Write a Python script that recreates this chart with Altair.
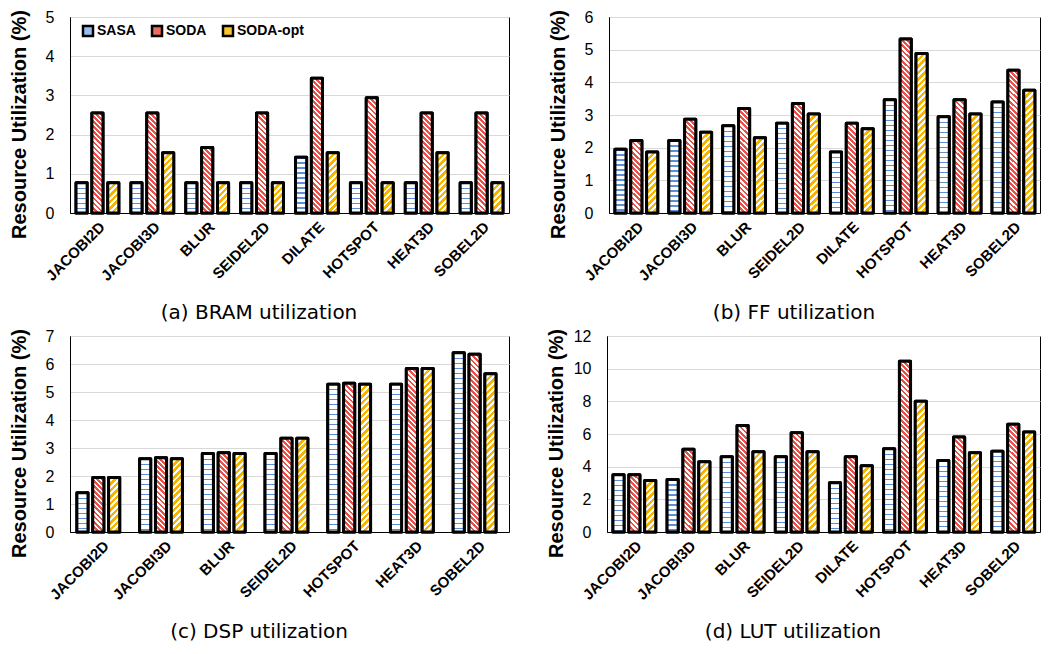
import math
import altair as alt

# ---------------- data ----------------
categories = ["JACOBI2D", "JACOBI3D", "BLUR", "SEIDEL2D", "DILATE", "HOTSPOT", "HEAT3D", "SOBEL2D"]
series = ["SASA", "SODA", "SODA-opt"]

bram_sasa = [0.77, 0.77, 0.77, 0.77, 1.42, 0.77, 0.77, 0.77]
bram_soda = [2.55, 2.55, 1.67, 2.55, 3.44, 2.94, 2.55, 2.55]
bram_opt = [0.77, 1.54, 0.77, 0.77, 1.54, 0.77, 1.54, 0.77]

ff_sasa = [1.95, 2.22, 2.67, 2.75, 1.87, 3.47, 2.95, 3.40]
ff_soda = [2.22, 2.87, 3.20, 3.35, 2.75, 5.33, 3.47, 4.37]
ff_opt = [1.87, 2.47, 2.30, 3.03, 2.58, 4.88, 3.03, 3.76]

dsp_sasa = [1.40, 2.62, 2.80, 2.80, 0.0, 5.28, 5.28, 6.40]
dsp_soda = [1.95, 2.65, 2.83, 3.35, 0.0, 5.31, 5.84, 6.35]
dsp_opt = [1.95, 2.62, 2.80, 3.35, 0.0, 5.28, 5.84, 5.65]

lut_sasa = [3.50, 3.22, 4.60, 4.60, 3.02, 5.10, 4.37, 4.95]
lut_soda = [3.50, 5.07, 6.52, 6.07, 4.60, 10.45, 5.82, 6.60]
lut_opt = [3.15, 4.30, 4.92, 4.92, 4.05, 8.00, 4.85, 6.12]

captions = ["(a) BRAM utilization", "(b) FF utilization", "(c) DSP utilization", "(d) LUT utilization"]

# ---------------- style ----------------
INK = {"SASA": "#5b8fdc", "SODA": "#e8524a", "SODA-opt": "#f7b500"}
LEGEND_FILL = ["#9bbdf0", "#ec6a62", "#f9c52e"]
PAD_INNER, PAD_OUTER, OFF_PAD = 0.22, 0.11, 0.3


def band_bar_width(plot_w):
    step = plot_w / (len(categories) - PAD_INNER + 2 * PAD_OUTER)
    group = step * (1 - PAD_INNER)
    sub = group / (len(series) - OFF_PAD)
    return sub * (1 - OFF_PAD)


def stripe_stops(n, frac, ink, bg="#ffffff"):
    stops = []
    k = 0
    while k / n < 1:
        a = round(k / n, 5)
        b = round(min((k + frac) / n, 1), 5)
        c = round(min((k + 1) / n, 1), 5)
        stops += [{"offset": a, "color": ink}, {"offset": b, "color": ink},
                  {"offset": b, "color": bg}, {"offset": c, "color": bg}]
        k += 1
    return stops


def stripe_fill(s, h, w):
    if h <= 0:
        return "#ffffff"
    if s == "SASA":
        n = h / 5.0
        return {"gradient": "linear", "x1": 0, "y1": 0, "x2": 0, "y2": 1,
                "stops": stripe_stops(n, 0.26, INK[s])}
    c = (w + h) / (w * w + h * h)
    a, b = w * c, h * c
    if s == "SODA":
        n = (w + h) / (3.6 * math.sqrt(2))
        return {"gradient": "linear", "x1": 0, "y1": 1, "x2": a, "y2": 1 - b,
                "stops": stripe_stops(n, 0.55, INK[s])}
    n = (w + h) / (4.6 * math.sqrt(2))
    return {"gradient": "linear", "x1": 0, "y1": 0, "x2": a, "y2": b,
            "stops": stripe_stops(n, 0.55, INK[s])}


def panel(sasa, soda, opt, ymax, ystep, W, H, caption):
    bw = band_bar_width(W)
    rows = []
    for i, cat in enumerate(categories):
        for s, vals in zip(series, (sasa, soda, opt)):
            v = vals[i]
            rows.append({"category": cat, "series": s, "value": v,
                         "pattern": stripe_fill(s, v * H / ymax, bw)})
    base = alt.Chart(alt.Data(values=rows)).transform_filter("datum.value > 0").encode(
        x=alt.X("category:N", sort=categories, title=None,
                scale=alt.Scale(paddingInner=PAD_INNER, paddingOuter=PAD_OUTER),
                axis=alt.Axis(labelAngle=-45, labelFontSize=15, labelFontWeight="bold",
                              labelPadding=6, labelFont="Liberation Sans")),
        xOffset=alt.XOffset("series:N", sort=series,
                            scale=alt.Scale(paddingInner=OFF_PAD, paddingOuter=0)),
        y=alt.Y("value:Q", scale=alt.Scale(domain=[0, ymax], nice=False),
                axis=alt.Axis(values=list(range(0, ymax + 1, ystep)),
                              title="Resource Utilization (%)",
                              titleX=-51, titleY=H / 2 + 9,
                              titleBaseline="middle", titleAlign="center")),
    )
    solid = base.mark_bar(stroke="black", strokeWidth=3, strokeJoin="round").encode(
        color=alt.Color("series:N", sort=series,
                        scale=alt.Scale(domain=series, range=LEGEND_FILL),
                        legend=alt.Legend(title=None, orient="none", legendX=11, legendY=7,
                                          direction="horizontal")))
    striped = base.mark_bar(stroke="black", strokeWidth=3, strokeJoin="round").encode(
        fill=alt.Fill("pattern:N", scale=None, legend=None))
    return alt.layer(solid, striped).properties(
        width=W, height=H,
        title=alt.TitleParams(caption, orient="bottom", anchor="middle", frame="bounds",
                              offset=20, font="DejaVu Sans", fontSize=20,
                              fontWeight="normal", color="black"))


pa = panel(bram_sasa, bram_soda, bram_opt, 5, 1, 439, 196, captions[0])
pb = panel(ff_sasa, ff_soda, ff_opt, 6, 1, 431, 196, captions[1])
pc = panel(dsp_sasa, dsp_soda, dsp_opt, 7, 1, 439, 196, captions[2])
pd = panel(lut_sasa, lut_soda, lut_opt, 12, 2, 433, 196, captions[3])

chart = alt.vconcat(
    alt.hconcat(pa, pb, spacing=37),
    alt.hconcat(pc, pd, spacing=35),
    spacing=3,
).properties(padding=0)

chart = chart.configure_view(stroke="black", strokeWidth=1).configure_axis(
    labelFont="Liberation Sans", labelColor="black", titleFont="Liberation Sans",
    titleColor="black", domainColor="black", domainWidth=1, ticks=False,
    gridColor="#d9d9d9", gridWidth=1,
).configure_axisX(
    grid=False,
).configure_axisY(
    labelFontSize=16, labelPadding=16, titleFontSize=20, titleFontWeight="bold",
).configure_legend(
    labelFont="Liberation Sans", labelFontSize=14, labelFontWeight="bold",
    labelColor="black", symbolType="square", symbolSize=100, symbolStrokeColor="black",
    symbolStrokeWidth=2.5, columnPadding=11, labelOffset=2, padding=0,
)

chart.save("out.html", embed_options={"renderer": "svg", "actions": False})
